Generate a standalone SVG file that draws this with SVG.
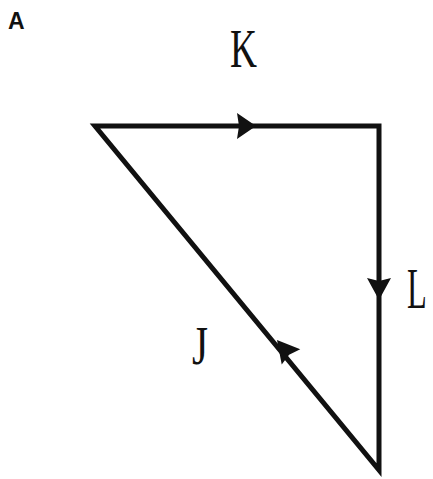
<svg xmlns="http://www.w3.org/2000/svg" width="433" height="479" viewBox="0 0 433 479">
<style>
.edge{stroke:#111;stroke-width:5;fill:none;stroke-linejoin:miter;stroke-linecap:square}
.arr{fill:#111}
.lbl{font-family:"Liberation Serif",serif;font-size:54px;fill:#111}
</style>
<rect width="433" height="479" fill="#fff"/>
<text x="8" y="29" font-family="Liberation Sans,Arial,sans-serif" font-weight="bold" font-size="23" fill="#111">A</text>
<g id="connectors">
<path class="edge" d="M95,126 L379,126 L379,470 Z"/>
<polygon class="arr" points="256,126 237,113 239,126 237,139"/>
<polygon class="arr" transform="translate(379,300)" points="0,0 -12,-22 0,-19 12,-22"/>
<polygon class="arr" transform="translate(277,340) rotate(230.5)" points="0,0 -22,-12 -19,0 -22,12"/>
</g>
<g id="K"><text class="lbl" x="230" y="67" textLength="27" lengthAdjust="spacingAndGlyphs">K</text></g>
<g id="L"><text transform="translate(407,308) scale(0.9,1.6)" font-family="Liberation Serif,serif" font-size="36" fill="#111">L</text></g>
<g id="J"><text class="lbl" x="192" y="364" textLength="16" lengthAdjust="spacingAndGlyphs">J</text></g>
</svg>
